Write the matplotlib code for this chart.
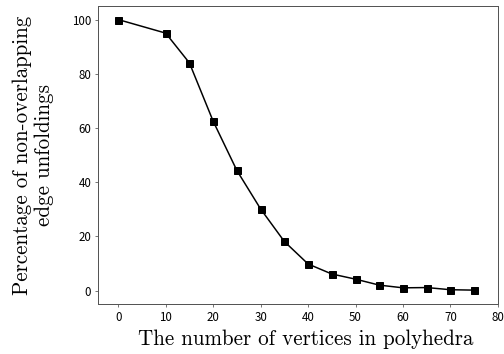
import numpy as np
import matplotlib
matplotlib.use("Agg")
import matplotlib.pyplot as plt

# Datos
vertices = [0, 10, 15, 20, 25, 30, 35, 40, 45, 50, 55, 60, 65, 70, 75]
porcentaje = [100, 95, 84, 62.5, 44.3, 30.1, 18.1, 9.8, 6.1, 4.2, 2.0, 1.0, 1.1, 0.3, 0.15]
xticks = [0, 10, 20, 30, 40, 50, 60, 70, 80]
yticks = [0, 20, 40, 60, 80, 100]

fig = plt.figure(figsize=(7, 354 / 72), dpi=72)
ax = fig.add_axes([0.195, 0.141, 0.793, 0.842])

ax.plot(vertices, porcentaje, color="black", linewidth=1.5,
        marker="s", markersize=7)

ax.set_xlim(-4.2, 80)
ax.set_ylim(-5, 105)
ax.set_xticks(xticks)
ax.set_yticks(yticks)
ax.tick_params(length=3, width=0.8, color="#555555", pad=4,
               labelsize=11.5, labelfontfamily="Noto Sans CJK JP")
for s in ax.spines.values():
    s.set_color("#555555")
    s.set_linewidth(1.0)

ax.set_xlabel("The number of vertices in polyhedra", family="cmr10",
              fontsize=21, va="top")
ax.xaxis.set_label_coords(0.52, -0.085)
ax.set_ylabel("Percentage of non-overlapping\nedge unfoldings", family="cmr10",
              fontsize=21, linespacing=1.15, va="bottom")
ax.yaxis.set_label_coords(-0.11, 0.5)

fig.savefig("out.png", dpi=72)
